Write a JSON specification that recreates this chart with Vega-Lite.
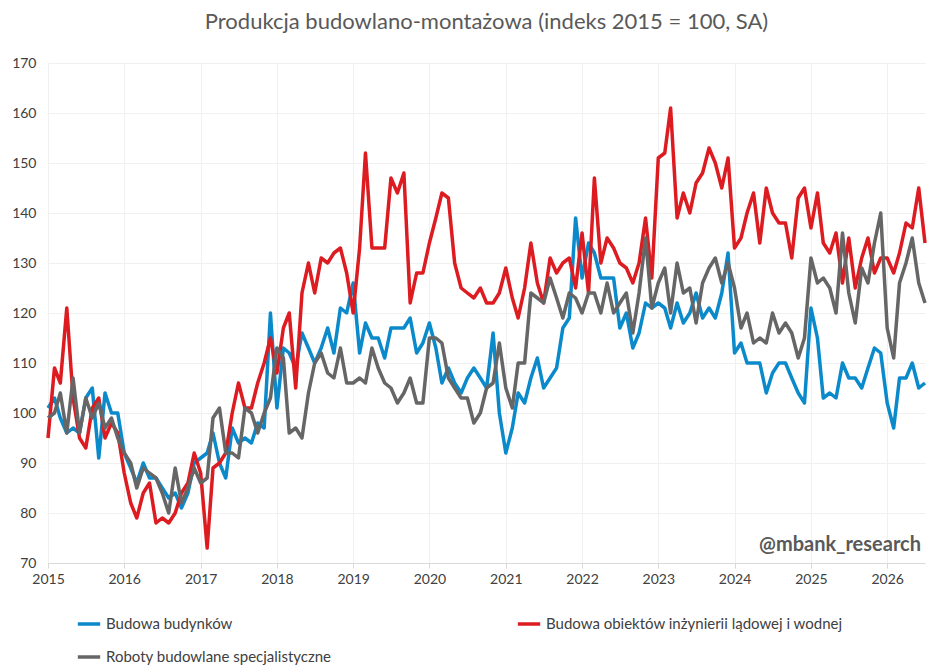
{
"$schema":"https://vega.github.io/schema/vega-lite/v6.json",
"width":877,"height":500,
"autosize":"none",
"padding":{"left":48,"top":63,"right":12,"bottom":102},
"background":"white",
"title":{"text":"Produkcja budowlano-montażowa (indeks 2015 = 100, SA)","font":"Lato","fontSize":22,"fontWeight":"normal","color":"#595959","offset":22},
"config":{"view":{"stroke":null},"font":"Lato"},
"datasets":{"w":[
{"d":"2015-01","a":101,"b":95,"c":99},{"d":"2015-02","a":103,"b":109,"c":100},{"d":"2015-03","a":99,"b":106,"c":104},{"d":"2015-04","a":96,"b":121,"c":96},{"d":"2015-05","a":97,"b":103,"c":107},{"d":"2015-06","a":96,"b":95,"c":96},{"d":"2015-07","a":103,"b":93,"c":103},{"d":"2015-08","a":105,"b":101,"c":99},{"d":"2015-09","a":91,"b":103,"c":102},{"d":"2015-10","a":104,"b":95,"c":97},{"d":"2015-11","a":100,"b":98,"c":99},{"d":"2015-12","a":100,"b":96,"c":95},
{"d":"2016-01","a":92,"b":88,"c":92},{"d":"2016-02","a":89,"b":82,"c":90},{"d":"2016-03","a":86,"b":79,"c":85},{"d":"2016-04","a":90,"b":84,"c":89},{"d":"2016-05","a":87,"b":86,"c":88},{"d":"2016-06","a":87,"b":78,"c":87},{"d":"2016-07","a":85,"b":79,"c":84},{"d":"2016-08","a":83,"b":78,"c":80},{"d":"2016-09","a":84,"b":80,"c":89},{"d":"2016-10","a":81,"b":84,"c":82},{"d":"2016-11","a":84,"b":86,"c":85},{"d":"2016-12","a":90,"b":92,"c":89},
{"d":"2017-01","a":91,"b":88,"c":86},{"d":"2017-02","a":92,"b":73,"c":87},{"d":"2017-03","a":96,"b":89,"c":99},{"d":"2017-04","a":90,"b":90,"c":101},{"d":"2017-05","a":87,"b":92,"c":92},{"d":"2017-06","a":97,"b":100,"c":92},{"d":"2017-07","a":94,"b":106,"c":91},{"d":"2017-08","a":95,"b":101,"c":101},{"d":"2017-09","a":94,"b":101,"c":100},{"d":"2017-10","a":98,"b":106,"c":96},{"d":"2017-11","a":97,"b":110,"c":100},{"d":"2017-12","a":120,"b":115,"c":103},
{"d":"2018-01","a":101,"b":108,"c":113},{"d":"2018-02","a":113,"b":117,"c":111},{"d":"2018-03","a":112,"b":120,"c":96},{"d":"2018-04","a":109,"b":105,"c":97},{"d":"2018-05","a":116,"b":124,"c":95},{"d":"2018-06","a":113,"b":130,"c":104},{"d":"2018-07","a":110,"b":124,"c":110},{"d":"2018-08","a":113,"b":131,"c":112},{"d":"2018-09","a":117,"b":130,"c":108},{"d":"2018-10","a":112,"b":132,"c":107},{"d":"2018-11","a":121,"b":133,"c":113},{"d":"2018-12","a":120,"b":128,"c":106},
{"d":"2019-01","a":126,"b":120,"c":106},{"d":"2019-02","a":112,"b":133,"c":107},{"d":"2019-03","a":118,"b":152,"c":106},{"d":"2019-04","a":115,"b":133,"c":113},{"d":"2019-05","a":115,"b":133,"c":109},{"d":"2019-06","a":111,"b":133,"c":106},{"d":"2019-07","a":117,"b":147,"c":105},{"d":"2019-08","a":117,"b":144,"c":102},{"d":"2019-09","a":117,"b":148,"c":104},{"d":"2019-10","a":119,"b":122,"c":107},{"d":"2019-11","a":112,"b":128,"c":102},{"d":"2019-12","a":114,"b":128,"c":102},
{"d":"2020-01","a":118,"b":134,"c":115},{"d":"2020-02","a":113,"b":139,"c":115},{"d":"2020-03","a":106,"b":144,"c":114},{"d":"2020-04","a":109,"b":143,"c":107},{"d":"2020-05","a":106,"b":130,"c":105},{"d":"2020-06","a":104,"b":125,"c":103},{"d":"2020-07","a":107,"b":124,"c":103},{"d":"2020-08","a":109,"b":123,"c":98},{"d":"2020-09","a":107,"b":125,"c":100},{"d":"2020-10","a":105,"b":122,"c":105},{"d":"2020-11","a":116,"b":122,"c":106},{"d":"2020-12","a":100,"b":124,"c":114},
{"d":"2021-01","a":92,"b":129,"c":105},{"d":"2021-02","a":97,"b":123,"c":101},{"d":"2021-03","a":104,"b":119,"c":110},{"d":"2021-04","a":102,"b":125,"c":110},{"d":"2021-05","a":107,"b":134,"c":124},{"d":"2021-06","a":111,"b":126,"c":123},{"d":"2021-07","a":105,"b":122,"c":122},{"d":"2021-08","a":107,"b":131,"c":127},{"d":"2021-09","a":109,"b":128,"c":123},{"d":"2021-10","a":117,"b":130,"c":119},{"d":"2021-11","a":119,"b":131,"c":124},{"d":"2021-12","a":139,"b":125,"c":123},
{"d":"2022-01","a":127,"b":136,"c":120},{"d":"2022-02","a":134,"b":124,"c":124},{"d":"2022-03","a":132,"b":147,"c":124},{"d":"2022-04","a":127,"b":130,"c":120},{"d":"2022-05","a":127,"b":135,"c":126},{"d":"2022-06","a":127,"b":133,"c":120},{"d":"2022-07","a":117,"b":130,"c":122},{"d":"2022-08","a":120,"b":129,"c":124},{"d":"2022-09","a":113,"b":126,"c":116},{"d":"2022-10","a":116,"b":130,"c":124},{"d":"2022-11","a":122,"b":139,"c":135},{"d":"2022-12","a":121,"b":127,"c":121},
{"d":"2023-01","a":122,"b":151,"c":126},{"d":"2023-02","a":121,"b":152,"c":129},{"d":"2023-03","a":117,"b":161,"c":120},{"d":"2023-04","a":122,"b":139,"c":130},{"d":"2023-05","a":118,"b":144,"c":124},{"d":"2023-06","a":120,"b":140,"c":125},{"d":"2023-07","a":124,"b":146,"c":118},{"d":"2023-08","a":119,"b":148,"c":126},{"d":"2023-09","a":121,"b":153,"c":129},{"d":"2023-10","a":119,"b":150,"c":131},{"d":"2023-11","a":124,"b":145,"c":126},{"d":"2023-12","a":132,"b":151,"c":130},
{"d":"2024-01","a":112,"b":133,"c":125},{"d":"2024-02","a":114,"b":135,"c":117},{"d":"2024-03","a":110,"b":140,"c":120},{"d":"2024-04","a":110,"b":144,"c":114},{"d":"2024-05","a":110,"b":134,"c":115},{"d":"2024-06","a":104,"b":145,"c":114},{"d":"2024-07","a":108,"b":140,"c":120},{"d":"2024-08","a":110,"b":138,"c":116},{"d":"2024-09","a":110,"b":138,"c":118},{"d":"2024-10","a":107,"b":131,"c":116},{"d":"2024-11","a":104,"b":143,"c":111},{"d":"2024-12","a":102,"b":145,"c":115},
{"d":"2025-01","a":121,"b":137,"c":131},{"d":"2025-02","a":115,"b":144,"c":126},{"d":"2025-03","a":103,"b":134,"c":127},{"d":"2025-04","a":104,"b":132,"c":125},{"d":"2025-05","a":103,"b":136,"c":120},{"d":"2025-06","a":110,"b":126,"c":136},{"d":"2025-07","a":107,"b":135,"c":124},{"d":"2025-08","a":107,"b":125,"c":118},{"d":"2025-09","a":105,"b":131,"c":129},{"d":"2025-10","a":109,"b":135,"c":126},{"d":"2025-11","a":113,"b":128,"c":134},{"d":"2025-12","a":112,"b":131,"c":140},
{"d":"2026-01","a":102,"b":131,"c":117},{"d":"2026-02","a":97,"b":128,"c":111},{"d":"2026-03","a":107,"b":132,"c":126},{"d":"2026-04","a":107,"b":138,"c":130},{"d":"2026-05","a":110,"b":137,"c":135},{"d":"2026-06","a":105,"b":145,"c":126},{"d":"2026-07","a":106,"b":134,"c":122}
]},
"layer":[
{"data":{"name":"w"},
"transform":[{"fold":["a","b","c"],"as":["k","v"]},
 {"lookup":"k","from":{"data":{"values":[{"k":"a","s":"Budowa budynków"},{"k":"b","s":"Budowa obiektów inżynierii lądowej i wodnej"},{"k":"c","s":"Roboty budowlane specjalistyczne"}]},"key":"k","fields":["s"]}}],
"mark":{"type":"line","strokeWidth":3.5,"strokeJoin":"round"},
"encoding":{
 "x":{"field":"d","type":"temporal","timeUnit":"yearmonth","scale":{"domain":[{"year":2015,"month":1},{"year":2026,"month":7}]},
  "axis":{"title":null,"format":"%Y","tickCount":{"interval":"year","step":1},"grid":true,"gridColor":"#f0f0f0","domainColor":"#d9d9d9","ticks":true,"tickColor":"#d9d9d9","labelFontSize":14,"labelColor":"#404040","labelPadding":4,"labelAlign":"center","labelFont":"Lato"}},
 "y":{"field":"v","type":"quantitative","scale":{"domain":[70,170]},
  "axis":{"title":null,"values":[70,80,90,100,110,120,130,140,150,160,170],"grid":true,"gridColor":"#f0f0f0","domain":false,"ticks":false,"labelFontSize":14,"labelColor":"#404040","labelPadding":12,"labelFont":"Lato"}},
 "color":{"field":"s","type":"nominal","scale":{"domain":["Budowa budynków","Budowa obiektów inżynierii lądowej i wodnej","Roboty budowlane specjalistyczne"],"range":["#0a8acb","#dd1c22","#666666"]},
  "legend":{"title":null,"orient":"none","legendX":28,"legendY":548,"direction":"horizontal","columns":2,"columnPadding":178,"rowPadding":12,"symbolType":"stroke","symbolStrokeWidth":3.5,"symbolSize":500,"labelFontSize":15,"labelColor":"#404040","labelLimit":500,"labelFont":"Lato"}}
}},
{"data":{"values":[{"t":"@mbank_research"}]},
"mark":{"type":"text","align":"right","baseline":"bottom","fontSize":20,"fontWeight":"bold","color":"#595959","dy":-8,"dx":-4},
"encoding":{"text":{"field":"t"},"x":{"datum":{"year":2026,"month":7},"type":"temporal"},"y":{"datum":70,"type":"quantitative"}}}
]
}
